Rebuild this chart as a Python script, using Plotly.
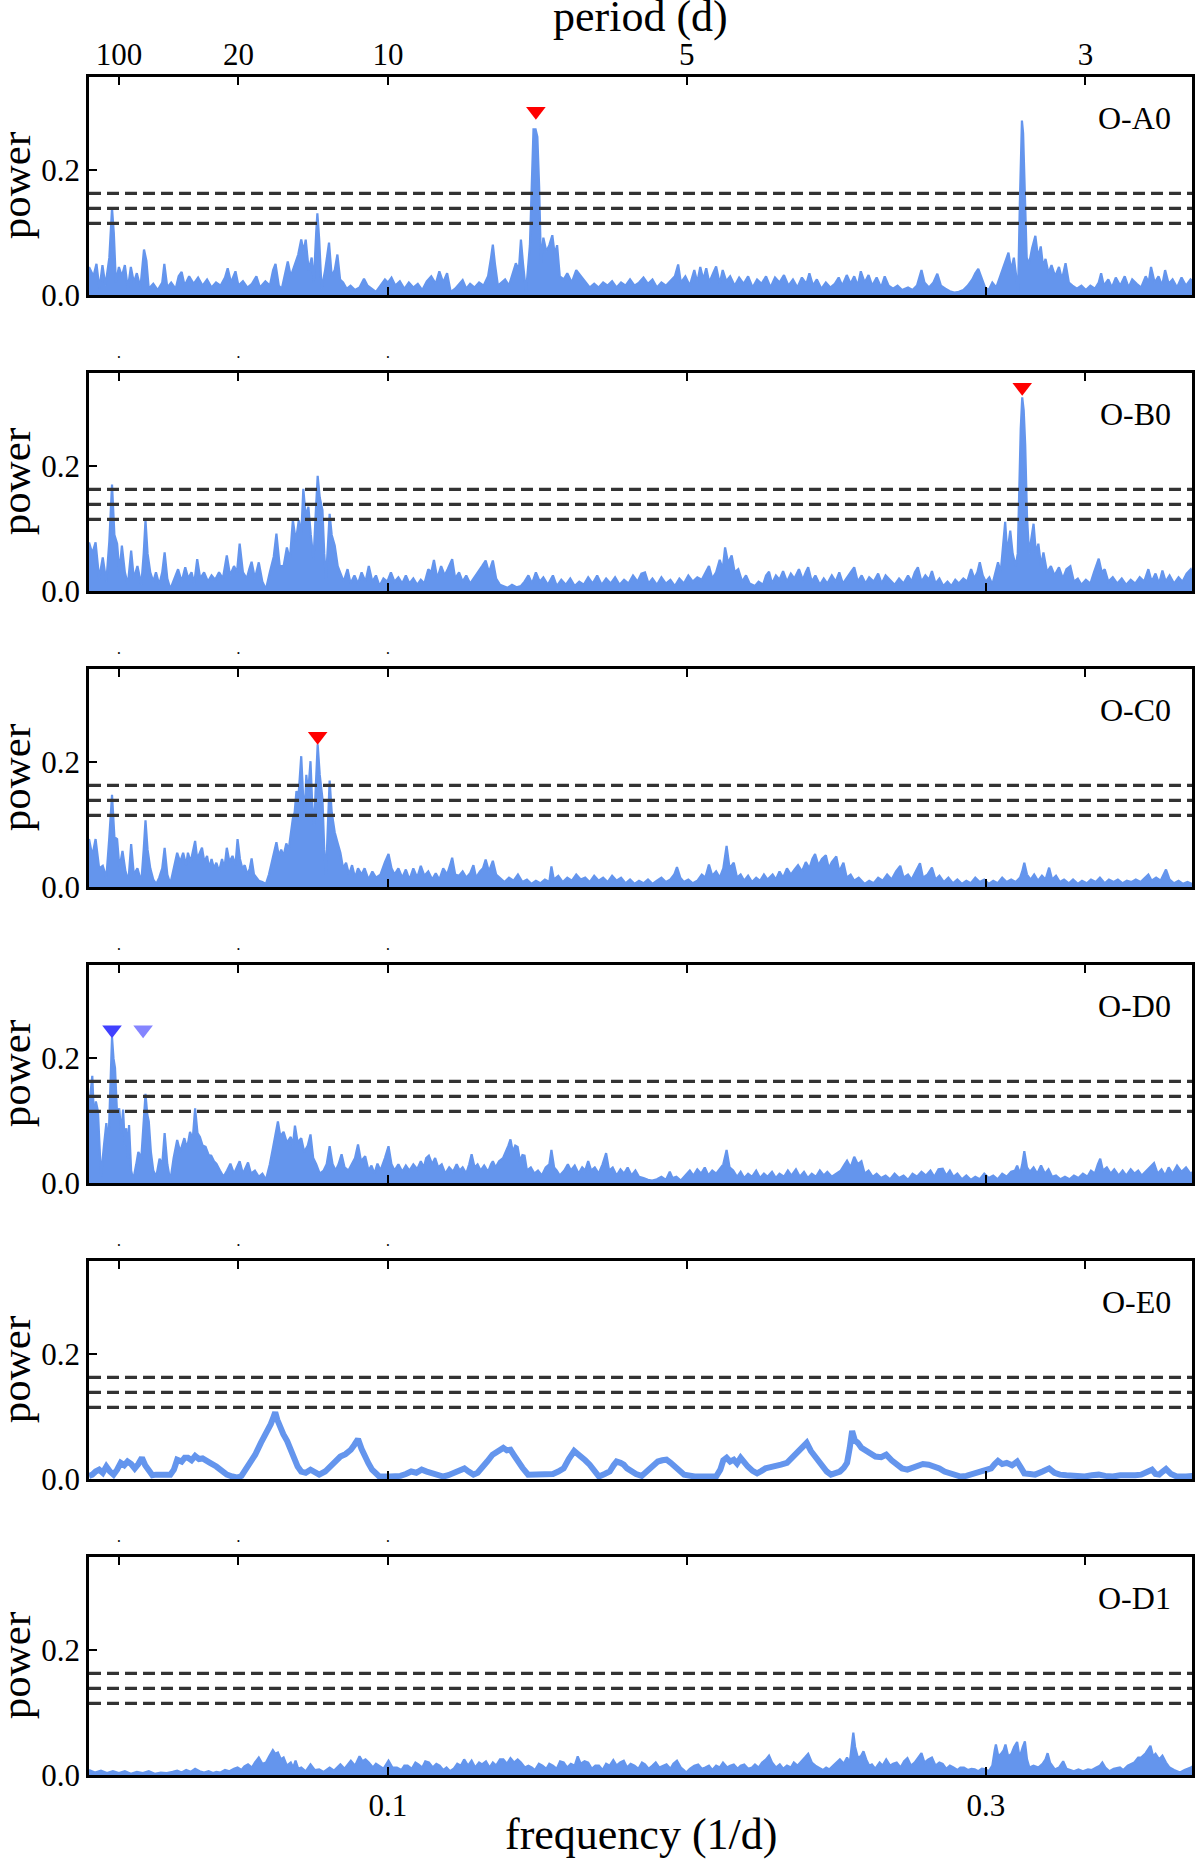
import plotly.graph_objects as go

# ---------------- data ----------------
PANEL_NAMES = ["O-A0", "O-B0", "O-C0", "O-D0", "O-E0", "O-D1"]
THRESHOLDS = [0.163, 0.139, 0.115]
FREQ_TICKS = [0.1, 0.3]
FREQ_TICK_TEXT = ["0.1", "0.3"]
PERIOD_TICKS = [100, 20, 10, 5, 3]
POWER_TICKS = [0.0, 0.2]
POWER_TICK_TEXT = ["0.0", "0.2"]
X_RANGE = [0.0, 0.369]
Y_RANGE = [0.0, 0.35]

# (frequency, power)
A0 = [(0.0000,0.045),(0.0015,0.030),(0.0025,0.050),(0.0035,0.010),(0.0045,0.048),(0.0055,0.015),(0.0068,0.060),(0.0077,0.139),(0.0083,0.100),(0.0090,0.020),
(0.0100,0.045),(0.0110,0.030),(0.0120,0.048),(0.0130,0.010),(0.0140,0.045),(0.0150,0.020),(0.0160,0.035),(0.0172,0.012),(0.0184,0.073),(0.0192,0.055),
(0.0200,0.010),(0.0215,0.018),(0.0230,0.008),(0.0245,0.020),(0.0252,0.050),(0.0262,0.012),(0.0275,0.020),(0.0290,0.010),(0.0300,0.030),(0.0310,0.037),
(0.0320,0.015),(0.0335,0.030),(0.0350,0.018),(0.0365,0.028),(0.0380,0.015),(0.0395,0.025),(0.0410,0.012),(0.0425,0.020),(0.0440,0.015),(0.0455,0.028),
(0.0464,0.043),(0.0475,0.020),(0.0490,0.038),(0.0500,0.015),(0.0515,0.022),(0.0530,0.012),(0.0545,0.018),(0.0560,0.030),(0.0572,0.012),(0.0590,0.022),
(0.0605,0.015),(0.0616,0.040),(0.0624,0.050),(0.0635,0.015),(0.0645,0.010),(0.0655,0.030),(0.0665,0.054),(0.0675,0.030),(0.0690,0.050),(0.0700,0.065),
(0.0710,0.089),(0.0718,0.070),(0.0725,0.089),(0.0735,0.040),(0.0745,0.060),(0.0752,0.020),(0.0760,0.100),(0.0764,0.131),(0.0770,0.090),(0.0778,0.010),
(0.0790,0.040),(0.0803,0.084),(0.0812,0.030),(0.0822,0.040),(0.0831,0.065),(0.0840,0.025),(0.0850,0.020),(0.0862,0.010),(0.0875,0.015),(0.0890,0.008),
(0.0905,0.012),(0.0920,0.026),(0.0932,0.015),(0.0945,0.010),(0.0960,0.005),(0.0975,0.015),(0.0990,0.025),(0.1000,0.020),(0.1012,0.028),(0.1025,0.015),
(0.1040,0.022),(0.1055,0.010),(0.1070,0.020),(0.1085,0.012),(0.1100,0.018),(0.1115,0.008),(0.1130,0.022),(0.1145,0.030),(0.1160,0.018),(0.1172,0.038),
(0.1185,0.020),(0.1198,0.035),(0.1210,0.005),(0.1225,0.010),(0.1240,0.018),(0.1250,0.024),(0.1262,0.010),(0.1275,0.018),(0.1290,0.012),(0.1305,0.020),
(0.1320,0.015),(0.1335,0.030),(0.1345,0.060),(0.1351,0.081),(0.1358,0.050),(0.1368,0.015),(0.1380,0.020),(0.1392,0.025),(0.1405,0.015),(0.1418,0.035),
(0.1428,0.051),(0.1438,0.040),(0.1445,0.089),(0.1452,0.050),(0.1462,0.005),(0.1475,0.080),(0.1480,0.173),(0.1487,0.266),(0.1494,0.266),(0.1500,0.254),
(0.1506,0.173),(0.1512,0.050),(0.1520,0.092),(0.1530,0.070),(0.1540,0.080),(0.1550,0.096),(0.1558,0.065),(0.1566,0.080),(0.1575,0.030),(0.1588,0.025),
(0.1600,0.035),(0.1615,0.020),(0.1630,0.040),(0.1645,0.030),(0.1660,0.022),(0.1675,0.012),(0.1690,0.018),(0.1705,0.012),(0.1720,0.020),(0.1735,0.015),
(0.1750,0.022),(0.1765,0.012),(0.1780,0.020),(0.1795,0.015),(0.1810,0.025),(0.1825,0.015),(0.1840,0.020),(0.1855,0.028),(0.1870,0.018),(0.1885,0.025),
(0.1900,0.012),(0.1915,0.020),(0.1930,0.015),(0.1945,0.022),(0.1960,0.030),(0.1971,0.049),(0.1980,0.020),(0.1995,0.030),(0.2010,0.015),(0.2025,0.040),
(0.2035,0.020),(0.2045,0.045),(0.2055,0.025),(0.2065,0.043),(0.2075,0.020),(0.2088,0.035),(0.2098,0.046),(0.2110,0.018),(0.2120,0.040),(0.2132,0.022),
(0.2145,0.030),(0.2160,0.015),(0.2175,0.028),(0.2190,0.018),(0.2205,0.030),(0.2220,0.012),(0.2235,0.025),(0.2250,0.018),(0.2265,0.030),(0.2280,0.012),
(0.2295,0.028),(0.2310,0.020),(0.2325,0.032),(0.2340,0.015),(0.2355,0.025),(0.2370,0.012),(0.2385,0.028),(0.2400,0.018),(0.2410,0.035),(0.2422,0.015),
(0.2435,0.025),(0.2450,0.010),(0.2465,0.020),(0.2480,0.012),(0.2495,0.018),(0.2508,0.028),(0.2520,0.015),(0.2535,0.032),(0.2548,0.018),(0.2560,0.030),
(0.2572,0.015),(0.2582,0.038),(0.2595,0.020),(0.2608,0.032),(0.2620,0.015),(0.2635,0.028),(0.2650,0.012),(0.2662,0.030),(0.2675,0.015),(0.2690,0.010),
(0.2705,0.015),(0.2720,0.008),(0.2740,0.012),(0.2755,0.008),(0.2770,0.015),(0.2785,0.040),(0.2795,0.020),(0.2810,0.012),(0.2825,0.020),(0.2838,0.034),
(0.2850,0.015),(0.2865,0.010),(0.2880,0.006),(0.2895,0.004),(0.2910,0.005),(0.2925,0.008),(0.2940,0.015),(0.2955,0.025),(0.2965,0.035),(0.2975,0.042),
(0.2985,0.030),(0.2998,0.012),(0.3010,0.008),(0.3022,0.020),(0.3035,0.012),(0.3048,0.030),(0.3060,0.045),(0.3068,0.055),(0.3076,0.068),(0.3085,0.040),
(0.3094,0.060),(0.3102,0.030),(0.3108,0.002),(0.3114,0.146),(0.3118,0.240),(0.3121,0.280),(0.3125,0.260),(0.3129,0.200),(0.3133,0.120),(0.3137,0.060),
(0.3145,0.050),(0.3155,0.075),(0.3166,0.095),(0.3175,0.060),(0.3184,0.078),(0.3192,0.045),(0.3200,0.058),(0.3210,0.035),(0.3220,0.048),(0.3232,0.030),
(0.3245,0.045),(0.3255,0.025),(0.3267,0.051),(0.3278,0.020),(0.3290,0.015),(0.3305,0.010),(0.3320,0.015),(0.3335,0.008),(0.3350,0.015),(0.3365,0.010),
(0.3378,0.020),(0.3386,0.035),(0.3395,0.015),(0.3410,0.025),(0.3422,0.012),(0.3435,0.028),(0.3450,0.015),(0.3465,0.030),(0.3478,0.012),(0.3490,0.025),
(0.3505,0.018),(0.3520,0.012),(0.3535,0.030),(0.3545,0.020),(0.3553,0.045),(0.3565,0.020),(0.3578,0.030),(0.3590,0.015),(0.3600,0.040),(0.3612,0.018),
(0.3625,0.025),(0.3640,0.012),(0.3655,0.028),(0.3670,0.015),(0.3685,0.025),(0.3700,0.018)]

B0 = [(0.0000,0.078),(0.0011,0.060),(0.0022,0.078),(0.0034,0.020),(0.0046,0.054),(0.0058,0.015),(0.0068,0.080),(0.0077,0.171),(0.0085,0.090),(0.0094,0.076),
(0.0102,0.030),(0.0110,0.073),(0.0120,0.030),(0.0130,0.010),(0.0141,0.065),(0.0150,0.020),(0.0162,0.040),(0.0175,0.010),(0.0183,0.060),(0.0189,0.114),
(0.0196,0.060),(0.0205,0.030),(0.0215,0.015),(0.0224,0.030),(0.0235,0.010),(0.0245,0.030),(0.0253,0.062),(0.0262,0.020),(0.0272,0.003),(0.0285,0.020),
(0.0298,0.035),(0.0310,0.015),(0.0322,0.038),(0.0332,0.020),(0.0343,0.030),(0.0352,0.012),(0.0362,0.051),(0.0372,0.020),(0.0385,0.030),(0.0398,0.015),
(0.0410,0.025),(0.0422,0.018),(0.0435,0.030),(0.0448,0.020),(0.0461,0.057),(0.0472,0.025),(0.0485,0.040),(0.0495,0.030),(0.0504,0.076),(0.0515,0.030),
(0.0528,0.020),(0.0536,0.035),(0.0544,0.047),(0.0555,0.020),(0.0568,0.046),(0.0580,0.015),(0.0592,0.003),(0.0605,0.030),(0.0618,0.055),(0.0627,0.092),
(0.0638,0.040),(0.0651,0.040),(0.0662,0.070),(0.0672,0.050),(0.0682,0.114),(0.0692,0.080),(0.0702,0.114),(0.0710,0.090),(0.0717,0.164),(0.0725,0.120),
(0.0734,0.135),(0.0742,0.090),(0.0751,0.050),(0.0758,0.120),(0.0765,0.185),(0.0772,0.150),(0.0781,0.130),(0.0787,0.060),(0.0793,0.020),(0.0800,0.080),
(0.0805,0.124),(0.0812,0.090),(0.0822,0.073),(0.0832,0.040),(0.0841,0.030),(0.0852,0.015),(0.0865,0.035),(0.0875,0.012),(0.0888,0.025),(0.0900,0.012),
(0.0912,0.030),(0.0925,0.015),(0.0936,0.040),(0.0948,0.015),(0.0960,0.025),(0.0972,0.008),(0.0985,0.020),(0.0998,0.015),(0.1010,0.030),(0.1022,0.015),
(0.1035,0.022),(0.1048,0.012),(0.1060,0.025),(0.1072,0.012),(0.1085,0.020),(0.1098,0.010),(0.1110,0.018),(0.1122,0.012),(0.1135,0.035),(0.1145,0.030),
(0.1154,0.050),(0.1165,0.020),(0.1178,0.040),(0.1190,0.025),(0.1200,0.035),(0.1215,0.051),(0.1225,0.020),(0.1238,0.030),(0.1250,0.015),(0.1262,0.025),
(0.1275,0.012),(0.1290,0.022),(0.1302,0.030),(0.1315,0.040),(0.1327,0.049),(0.1338,0.030),(0.1351,0.049),(0.1362,0.020),(0.1375,0.010),(0.1386,0.008),
(0.1400,0.005),(0.1415,0.010),(0.1430,0.006),(0.1445,0.008),(0.1457,0.015),(0.1470,0.025),(0.1482,0.012),(0.1495,0.030),(0.1508,0.015),(0.1520,0.022),
(0.1535,0.010),(0.1552,0.025),(0.1565,0.008),(0.1580,0.018),(0.1595,0.010),(0.1610,0.020),(0.1625,0.008),(0.1640,0.015),(0.1655,0.010),(0.1670,0.022),
(0.1685,0.012),(0.1700,0.025),(0.1715,0.010),(0.1730,0.020),(0.1745,0.012),(0.1760,0.022),(0.1775,0.010),(0.1790,0.018),(0.1805,0.012),(0.1820,0.025),
(0.1835,0.015),(0.1848,0.028),(0.1860,0.030),(0.1872,0.012),(0.1885,0.020),(0.1900,0.010),(0.1915,0.022),(0.1930,0.012),(0.1945,0.018),(0.1960,0.008),
(0.1975,0.020),(0.1990,0.012),(0.2005,0.025),(0.2020,0.015),(0.2035,0.022),(0.2050,0.018),(0.2062,0.030),(0.2074,0.040),(0.2085,0.020),(0.2098,0.030),
(0.2110,0.050),(0.2120,0.035),(0.2128,0.070),(0.2138,0.045),(0.2150,0.057),(0.2160,0.030),(0.2172,0.035),(0.2185,0.015),(0.2198,0.025),(0.2210,0.012),
(0.2228,0.008),(0.2240,0.015),(0.2255,0.010),(0.2265,0.025),(0.2275,0.031),(0.2285,0.012),(0.2298,0.025),(0.2310,0.018),(0.2322,0.032),(0.2335,0.015),
(0.2348,0.028),(0.2360,0.020),(0.2375,0.035),(0.2388,0.018),(0.2398,0.030),(0.2406,0.038),(0.2418,0.015),(0.2430,0.025),(0.2445,0.010),(0.2458,0.020),
(0.2470,0.012),(0.2485,0.025),(0.2498,0.015),(0.2510,0.030),(0.2522,0.012),(0.2535,0.022),(0.2548,0.030),(0.2560,0.038),(0.2572,0.015),(0.2585,0.025),
(0.2598,0.012),(0.2610,0.022),(0.2625,0.015),(0.2640,0.028),(0.2652,0.012),(0.2665,0.025),(0.2680,0.018),(0.2695,0.010),(0.2710,0.020),(0.2725,0.012),
(0.2740,0.025),(0.2752,0.015),(0.2763,0.030),(0.2773,0.038),(0.2785,0.015),(0.2798,0.025),(0.2810,0.018),(0.2820,0.032),(0.2832,0.012),(0.2845,0.020),
(0.2858,0.008),(0.2872,0.015),(0.2885,0.008),(0.2898,0.018),(0.2910,0.012),(0.2925,0.020),(0.2938,0.015),(0.2951,0.035),(0.2962,0.020),(0.2972,0.030),
(0.2980,0.046),(0.2990,0.025),(0.3000,0.015),(0.3012,0.022),(0.3022,0.010),(0.3032,0.030),(0.3041,0.046),(0.3050,0.030),(0.3058,0.070),(0.3065,0.111),
(0.3072,0.060),(0.3082,0.097),(0.3090,0.060),(0.3100,0.040),(0.3107,0.060),(0.3112,0.168),(0.3117,0.260),(0.3122,0.311),(0.3127,0.290),(0.3132,0.235),
(0.3138,0.120),(0.3145,0.060),(0.3152,0.080),(0.3160,0.108),(0.3168,0.060),(0.3176,0.076),(0.3185,0.040),(0.3193,0.062),(0.3205,0.030),(0.3218,0.040),
(0.3230,0.025),(0.3245,0.038),(0.3258,0.020),(0.3270,0.035),(0.3283,0.040),(0.3295,0.015),(0.3308,0.020),(0.3320,0.010),(0.3335,0.018),(0.3350,0.012),
(0.3362,0.030),(0.3372,0.045),(0.3378,0.052),(0.3388,0.030),(0.3398,0.035),(0.3410,0.015),(0.3425,0.022),(0.3440,0.012),(0.3455,0.020),(0.3470,0.010),
(0.3485,0.018),(0.3500,0.012),(0.3515,0.022),(0.3530,0.015),(0.3544,0.035),(0.3555,0.015),(0.3568,0.028),(0.3580,0.012),(0.3591,0.033),(0.3602,0.015),
(0.3615,0.025),(0.3630,0.012),(0.3645,0.022),(0.3658,0.015),(0.3672,0.028),(0.3686,0.035),(0.3700,0.020)]

C0 = [(0.0000,0.077),(0.0011,0.050),(0.0022,0.077),(0.0034,0.030),(0.0046,0.034),(0.0058,0.015),(0.0068,0.080),(0.0077,0.148),(0.0085,0.080),(0.0094,0.077),
(0.0102,0.030),(0.0112,0.058),(0.0122,0.025),(0.0132,0.010),(0.0141,0.069),(0.0150,0.020),(0.0162,0.030),(0.0175,0.008),(0.0183,0.060),(0.0189,0.107),
(0.0196,0.060),(0.0205,0.030),(0.0215,0.012),(0.0225,0.005),(0.0235,0.015),(0.0245,0.030),(0.0253,0.063),(0.0262,0.020),(0.0272,0.005),(0.0283,0.030),
(0.0295,0.055),(0.0305,0.040),(0.0315,0.055),(0.0325,0.035),(0.0331,0.055),(0.0340,0.040),(0.0348,0.060),(0.0355,0.074),(0.0362,0.045),(0.0370,0.055),
(0.0378,0.063),(0.0386,0.040),(0.0395,0.050),(0.0402,0.030),(0.0410,0.045),(0.0418,0.030),(0.0426,0.039),(0.0435,0.025),(0.0445,0.045),(0.0453,0.030),
(0.0461,0.063),(0.0470,0.040),(0.0480,0.050),(0.0490,0.035),(0.0497,0.077),(0.0505,0.045),(0.0513,0.030),(0.0521,0.035),(0.0530,0.020),(0.0538,0.030),
(0.0544,0.046),(0.0552,0.020),(0.0560,0.015),(0.0568,0.010),(0.0580,0.008),(0.0592,0.005),(0.0602,0.020),(0.0612,0.040),(0.0620,0.055),(0.0627,0.072),
(0.0635,0.050),(0.0643,0.060),(0.0651,0.050),(0.0660,0.070),(0.0668,0.060),(0.0675,0.085),(0.0682,0.110),(0.0688,0.120),(0.0694,0.154),(0.0700,0.140),
(0.0705,0.180),(0.0710,0.210),(0.0716,0.150),(0.0722,0.120),(0.0727,0.180),(0.0733,0.150),(0.0741,0.202),(0.0747,0.130),(0.0753,0.100),(0.0760,0.170),
(0.0765,0.229),(0.0772,0.180),(0.0781,0.142),(0.0787,0.060),(0.0793,0.020),(0.0800,0.110),(0.0805,0.171),(0.0812,0.120),(0.0822,0.088),(0.0832,0.070),
(0.0841,0.055),(0.0850,0.030),(0.0860,0.039),(0.0870,0.020),(0.0880,0.035),(0.0890,0.015),(0.0900,0.030),(0.0912,0.020),(0.0922,0.030),(0.0935,0.012),
(0.0948,0.025),(0.0960,0.015),(0.0975,0.020),(0.0990,0.040),(0.1002,0.053),(0.1012,0.030),(0.1022,0.020),(0.1035,0.030),(0.1048,0.015),(0.1060,0.028),
(0.1072,0.012),(0.1085,0.030),(0.1098,0.015),(0.1110,0.034),(0.1122,0.018),(0.1135,0.025),(0.1148,0.012),(0.1160,0.022),(0.1172,0.012),(0.1185,0.030),
(0.1198,0.020),(0.1208,0.035),(0.1215,0.047),(0.1225,0.020),(0.1238,0.018),(0.1250,0.025),(0.1262,0.015),(0.1275,0.022),(0.1286,0.035),(0.1295,0.015),
(0.1308,0.025),(0.1318,0.030),(0.1327,0.044),(0.1338,0.025),(0.1351,0.042),(0.1362,0.020),(0.1375,0.015),(0.1390,0.008),(0.1405,0.015),(0.1420,0.010),
(0.1435,0.020),(0.1450,0.008),(0.1465,0.012),(0.1480,0.005),(0.1495,0.010),(0.1510,0.006),(0.1525,0.012),(0.1540,0.008),(0.1547,0.033),(0.1555,0.012),
(0.1570,0.018),(0.1585,0.008),(0.1600,0.015),(0.1615,0.010),(0.1630,0.020),(0.1645,0.012),(0.1660,0.015),(0.1675,0.008),(0.1690,0.018),(0.1705,0.010),
(0.1720,0.015),(0.1735,0.008),(0.1750,0.018),(0.1765,0.010),(0.1780,0.015),(0.1795,0.006),(0.1810,0.012),(0.1825,0.005),(0.1840,0.010),(0.1855,0.006),
(0.1870,0.012),(0.1885,0.005),(0.1900,0.010),(0.1915,0.015),(0.1930,0.008),(0.1945,0.012),(0.1958,0.020),(0.1967,0.032),(0.1978,0.015),(0.1990,0.008),
(0.2005,0.012),(0.2020,0.006),(0.2035,0.010),(0.2050,0.020),(0.2062,0.015),(0.2074,0.036),(0.2085,0.018),(0.2098,0.025),(0.2110,0.015),(0.2122,0.030),
(0.2133,0.066),(0.2143,0.030),(0.2157,0.039),(0.2168,0.015),(0.2180,0.020),(0.2192,0.010),(0.2205,0.018),(0.2218,0.008),(0.2232,0.015),(0.2245,0.010),
(0.2258,0.020),(0.2270,0.012),(0.2287,0.020),(0.2298,0.012),(0.2310,0.025),(0.2322,0.015),(0.2335,0.030),(0.2348,0.020),(0.2360,0.028),(0.2372,0.035),
(0.2385,0.025),(0.2398,0.040),(0.2410,0.030),(0.2420,0.045),(0.2429,0.053),(0.2440,0.035),(0.2452,0.045),(0.2465,0.051),(0.2475,0.030),(0.2485,0.040),
(0.2500,0.049),(0.2510,0.025),(0.2524,0.039),(0.2535,0.015),(0.2548,0.020),(0.2560,0.010),(0.2575,0.015),(0.2595,0.005),(0.2610,0.010),(0.2625,0.006),
(0.2640,0.015),(0.2655,0.010),(0.2670,0.020),(0.2685,0.012),(0.2700,0.025),(0.2714,0.034),(0.2725,0.015),(0.2740,0.020),(0.2752,0.012),(0.2765,0.025),
(0.2780,0.038),(0.2790,0.015),(0.2805,0.020),(0.2820,0.031),(0.2832,0.012),(0.2845,0.018),(0.2860,0.008),(0.2875,0.015),(0.2890,0.006),(0.2905,0.012),
(0.2920,0.005),(0.2935,0.010),(0.2950,0.006),(0.2965,0.015),(0.2980,0.008),(0.2995,0.012),(0.3010,0.005),(0.3025,0.010),(0.3040,0.006),(0.3055,0.015),
(0.3070,0.008),(0.3085,0.012),(0.3100,0.008),(0.3115,0.015),(0.3122,0.025),(0.3129,0.039),(0.3138,0.020),(0.3150,0.012),(0.3162,0.020),(0.3175,0.010),
(0.3188,0.018),(0.3200,0.012),(0.3212,0.031),(0.3222,0.012),(0.3235,0.018),(0.3248,0.008),(0.3262,0.012),(0.3278,0.006),(0.3292,0.012),(0.3308,0.005),
(0.3322,0.010),(0.3338,0.006),(0.3352,0.012),(0.3368,0.008),(0.3382,0.015),(0.3398,0.006),(0.3412,0.012),(0.3428,0.008),(0.3442,0.012),(0.3458,0.006),
(0.3472,0.010),(0.3488,0.008),(0.3502,0.012),(0.3518,0.008),(0.3532,0.015),(0.3544,0.020),(0.3555,0.010),(0.3570,0.015),(0.3585,0.010),(0.3595,0.020),
(0.3603,0.028),(0.3615,0.012),(0.3630,0.006),(0.3645,0.010),(0.3660,0.005),(0.3675,0.008),(0.3690,0.005),(0.3700,0.008)]

D0 = [(0.0000,0.120),(0.0011,0.172),(0.0017,0.100),(0.0023,0.131),(0.0030,0.115),(0.0040,0.010),(0.0050,0.060),(0.0058,0.096),(0.0065,0.060),(0.0072,0.150),
(0.0077,0.234),(0.0082,0.200),(0.0087,0.185),(0.0094,0.110),(0.0101,0.120),(0.0108,0.080),(0.0114,0.118),(0.0120,0.060),(0.0125,0.088),(0.0130,0.040),
(0.0134,0.093),(0.0141,0.020),(0.0148,0.005),(0.0158,0.030),(0.0165,0.050),(0.0175,0.040),(0.0183,0.090),(0.0189,0.143),(0.0195,0.110),(0.0200,0.099),
(0.0207,0.050),(0.0215,0.020),(0.0225,0.010),(0.0236,0.039),(0.0245,0.030),(0.0253,0.080),(0.0262,0.030),(0.0272,0.003),(0.0283,0.040),(0.0295,0.069),
(0.0305,0.050),(0.0319,0.072),(0.0328,0.055),(0.0338,0.082),(0.0347,0.070),(0.0355,0.120),(0.0363,0.080),(0.0371,0.074),(0.0380,0.060),(0.0390,0.058),
(0.0400,0.045),(0.0409,0.044),(0.0418,0.035),(0.0426,0.031),(0.0438,0.020),(0.0450,0.010),(0.0462,0.020),(0.0473,0.031),(0.0485,0.015),(0.0495,0.025),
(0.0504,0.035),(0.0515,0.015),(0.0525,0.025),(0.0532,0.033),(0.0542,0.015),(0.0555,0.020),(0.0568,0.010),(0.0580,0.015),(0.0592,0.005),(0.0605,0.030),
(0.0615,0.055),(0.0625,0.080),(0.0632,0.099),(0.0640,0.075),(0.0651,0.082),(0.0662,0.065),(0.0675,0.074),(0.0682,0.060),(0.0689,0.092),(0.0698,0.065),
(0.0710,0.072),(0.0720,0.050),(0.0732,0.060),(0.0741,0.078),(0.0750,0.040),(0.0760,0.030),(0.0772,0.015),(0.0785,0.020),(0.0795,0.030),(0.0805,0.059),
(0.0815,0.030),(0.0825,0.020),(0.0835,0.030),(0.0845,0.046),(0.0855,0.025),(0.0868,0.020),(0.0880,0.030),(0.0890,0.040),(0.0900,0.062),(0.0910,0.035),
(0.0924,0.043),(0.0935,0.020),(0.0945,0.028),(0.0955,0.015),(0.0965,0.031),(0.0975,0.020),(0.0990,0.040),(0.1002,0.059),(0.1012,0.030),(0.1022,0.020),
(0.1035,0.030),(0.1048,0.018),(0.1060,0.028),(0.1072,0.020),(0.1085,0.030),(0.1098,0.022),(0.1110,0.035),(0.1120,0.025),(0.1128,0.040),(0.1137,0.044),
(0.1148,0.030),(0.1158,0.040),(0.1168,0.025),(0.1180,0.030),(0.1192,0.015),(0.1205,0.025),(0.1218,0.018),(0.1230,0.030),(0.1240,0.020),(0.1250,0.025),
(0.1262,0.015),(0.1272,0.030),(0.1280,0.046),(0.1290,0.025),(0.1300,0.030),(0.1310,0.020),(0.1322,0.028),(0.1335,0.018),(0.1345,0.030),(0.1351,0.035),
(0.1360,0.025),(0.1372,0.035),(0.1385,0.040),(0.1395,0.050),(0.1403,0.060),(0.1410,0.070),(0.1418,0.050),(0.1426,0.060),(0.1434,0.058),(0.1442,0.035),
(0.1450,0.045),(0.1457,0.044),(0.1465,0.020),(0.1478,0.025),(0.1490,0.015),(0.1502,0.020),(0.1515,0.012),(0.1528,0.025),(0.1540,0.030),(0.1547,0.053),
(0.1556,0.025),(0.1565,0.020),(0.1575,0.012),(0.1590,0.020),(0.1602,0.030),(0.1612,0.020),(0.1625,0.028),(0.1638,0.015),(0.1650,0.025),(0.1660,0.020),
(0.1670,0.035),(0.1680,0.020),(0.1692,0.025),(0.1705,0.015),(0.1718,0.030),(0.1730,0.048),(0.1740,0.020),(0.1752,0.025),(0.1765,0.012),(0.1778,0.022),
(0.1790,0.015),(0.1802,0.025),(0.1815,0.012),(0.1828,0.020),(0.1840,0.010),(0.1855,0.008),(0.1870,0.005),(0.1884,0.004),(0.1900,0.006),(0.1915,0.010),
(0.1930,0.005),(0.1943,0.018),(0.1952,0.008),(0.1965,0.010),(0.1980,0.004),(0.1995,0.012),(0.2010,0.020),(0.2022,0.012),(0.2035,0.022),(0.2048,0.015),
(0.2060,0.025),(0.2072,0.012),(0.2085,0.020),(0.2098,0.015),(0.2110,0.022),(0.2122,0.030),(0.2133,0.053),(0.2143,0.025),(0.2155,0.020),(0.2168,0.010),
(0.2180,0.018),(0.2192,0.008),(0.2205,0.015),(0.2218,0.010),(0.2232,0.020),(0.2245,0.008),(0.2258,0.015),(0.2270,0.010),(0.2285,0.018),(0.2298,0.008),
(0.2310,0.015),(0.2325,0.010),(0.2338,0.020),(0.2350,0.012),(0.2365,0.022),(0.2378,0.010),(0.2392,0.018),(0.2405,0.008),(0.2418,0.015),(0.2432,0.010),
(0.2445,0.020),(0.2458,0.012),(0.2470,0.018),(0.2485,0.010),(0.2500,0.015),(0.2515,0.020),(0.2528,0.030),(0.2536,0.036),(0.2548,0.025),(0.2560,0.042),
(0.2572,0.030),(0.2584,0.035),(0.2595,0.015),(0.2608,0.020),(0.2622,0.010),(0.2635,0.015),(0.2650,0.008),(0.2665,0.012),(0.2680,0.006),(0.2695,0.015),
(0.2710,0.008),(0.2725,0.012),(0.2740,0.005),(0.2755,0.015),(0.2770,0.010),(0.2785,0.018),(0.2800,0.012),(0.2815,0.020),(0.2828,0.010),(0.2842,0.022),
(0.2856,0.023),(0.2868,0.012),(0.2880,0.020),(0.2892,0.010),(0.2905,0.015),(0.2920,0.006),(0.2935,0.012),(0.2950,0.005),(0.2965,0.010),(0.2980,0.006),
(0.2995,0.015),(0.3010,0.008),(0.3025,0.012),(0.3040,0.006),(0.3055,0.015),(0.3070,0.010),(0.3085,0.018),(0.3098,0.020),(0.3105,0.028),(0.3115,0.015),
(0.3122,0.030),(0.3129,0.051),(0.3138,0.025),(0.3148,0.018),(0.3160,0.025),(0.3172,0.015),(0.3185,0.028),(0.3198,0.015),(0.3210,0.022),(0.3222,0.010),
(0.3235,0.012),(0.3250,0.006),(0.3265,0.010),(0.3280,0.006),(0.3295,0.012),(0.3310,0.008),(0.3325,0.015),(0.3340,0.010),(0.3352,0.020),(0.3365,0.015),
(0.3375,0.030),(0.3383,0.039),(0.3392,0.020),(0.3405,0.025),(0.3418,0.015),(0.3430,0.022),(0.3445,0.012),(0.3458,0.020),(0.3470,0.012),(0.3485,0.022),
(0.3498,0.015),(0.3510,0.020),(0.3522,0.012),(0.3535,0.018),(0.3548,0.025),(0.3556,0.028),(0.3563,0.032),(0.3575,0.015),(0.3588,0.022),(0.3600,0.012),
(0.3612,0.025),(0.3625,0.015),(0.3640,0.028),(0.3655,0.018),(0.3670,0.025),(0.3685,0.015),(0.3700,0.020)]

E0 = [(0.0000,0.005),(0.0011,0.007),(0.0022,0.012),(0.0034,0.015),(0.0046,0.010),(0.0058,0.020),(0.0070,0.012),(0.0082,0.007),(0.0094,0.015),(0.0106,0.026),
(0.0118,0.022),(0.0129,0.028),(0.0141,0.024),(0.0153,0.017),(0.0165,0.024),(0.0177,0.034),(0.0188,0.022),(0.0200,0.012),(0.0212,0.006),(0.0224,0.007),
(0.0248,0.007),(0.0272,0.007),(0.0284,0.015),(0.0295,0.031),(0.0310,0.028),(0.0320,0.034),(0.0331,0.034),(0.0343,0.030),(0.0355,0.037),(0.0368,0.032),
(0.0380,0.033),(0.0390,0.031),(0.0405,0.026),(0.0426,0.020),(0.0445,0.012),(0.0461,0.007),(0.0480,0.004),(0.0497,0.002),(0.0510,0.005),(0.0520,0.012),
(0.0538,0.025),(0.0556,0.039),(0.0575,0.058),(0.0592,0.072),(0.0600,0.082),(0.0608,0.088),(0.0616,0.098),(0.0623,0.107),(0.0630,0.095),(0.0639,0.083),
(0.0650,0.072),(0.0663,0.061),(0.0675,0.045),(0.0687,0.031),(0.0698,0.020),(0.0710,0.012),(0.0725,0.010),(0.0741,0.015),(0.0755,0.010),(0.0770,0.007),
(0.0790,0.012),(0.0805,0.020),(0.0825,0.030),(0.0841,0.036),(0.0858,0.040),(0.0876,0.047),(0.0888,0.055),(0.0900,0.064),(0.0912,0.048),(0.0924,0.034),
(0.0935,0.025),(0.0947,0.015),(0.0960,0.008),(0.0971,0.004),(0.1007,0.004),(0.1042,0.005),(0.1060,0.008),(0.1078,0.012),(0.1095,0.010),(0.1113,0.015),
(0.1130,0.012),(0.1149,0.009),(0.1167,0.006),(0.1185,0.004),(0.1202,0.006),(0.1220,0.009),(0.1238,0.012),(0.1256,0.017),(0.1270,0.012),(0.1286,0.007),
(0.1300,0.010),(0.1315,0.017),(0.1332,0.028),(0.1350,0.039),(0.1368,0.045),(0.1386,0.050),(0.1398,0.046),(0.1410,0.047),(0.1422,0.038),(0.1434,0.028),
(0.1450,0.018),(0.1469,0.007),(0.1505,0.007),(0.1530,0.006),(0.1552,0.008),(0.1570,0.012),(0.1588,0.017),(0.1605,0.032),(0.1623,0.045),(0.1635,0.040),
(0.1647,0.036),(0.1660,0.030),(0.1675,0.023),(0.1690,0.012),(0.1706,0.004),(0.1725,0.008),(0.1742,0.012),(0.1755,0.022),(0.1765,0.028),(0.1778,0.026),
(0.1789,0.023),(0.1800,0.017),(0.1813,0.012),(0.1830,0.008),(0.1849,0.005),(0.1860,0.010),(0.1872,0.017),(0.1888,0.024),(0.1903,0.028),(0.1918,0.030),
(0.1932,0.031),(0.1946,0.026),(0.1960,0.020),(0.1975,0.012),(0.1991,0.007),(0.2026,0.004),(0.2062,0.005),(0.2098,0.004),(0.2112,0.015),(0.2122,0.030),
(0.2133,0.034),(0.2145,0.028),(0.2157,0.031),(0.2168,0.025),(0.2180,0.034),(0.2192,0.026),(0.2204,0.020),(0.2220,0.013),(0.2235,0.009),(0.2250,0.013),
(0.2263,0.017),(0.2280,0.019),(0.2299,0.020),(0.2315,0.023),(0.2335,0.026),(0.2352,0.034),(0.2370,0.042),(0.2385,0.050),(0.2401,0.058),(0.2415,0.045),
(0.2430,0.036),(0.2440,0.028),(0.2453,0.020),(0.2468,0.012),(0.2482,0.007),(0.2497,0.009),(0.2512,0.012),(0.2525,0.018),(0.2536,0.026),(0.2545,0.050),
(0.2553,0.077),(0.2562,0.062),(0.2572,0.058),(0.2584,0.050),(0.2595,0.047),(0.2612,0.040),(0.2631,0.036),(0.2650,0.035),(0.2667,0.039),(0.2685,0.030),
(0.2702,0.023),(0.2720,0.017),(0.2738,0.015),(0.2755,0.018),(0.2773,0.020),(0.2790,0.024),(0.2809,0.023),(0.2828,0.020),(0.2845,0.017),(0.2862,0.012),
(0.2880,0.009),(0.2898,0.006),(0.2916,0.004),(0.2935,0.005),(0.2951,0.007),(0.2970,0.010),(0.2987,0.012),(0.3003,0.015),(0.3018,0.017),(0.3030,0.024),
(0.3041,0.029),(0.3055,0.024),(0.3070,0.026),(0.3088,0.022),(0.3105,0.028),(0.3118,0.018),(0.3129,0.009),(0.3148,0.008),(0.3165,0.007),(0.3190,0.012),
(0.3212,0.017),(0.3230,0.010),(0.3248,0.007),(0.3270,0.006),(0.3295,0.005),(0.3331,0.004),(0.3355,0.006),(0.3378,0.007),(0.3400,0.005),(0.3425,0.004),
(0.3450,0.006),(0.3473,0.005),(0.3500,0.006),(0.3520,0.007),(0.3540,0.012),(0.3556,0.015),(0.3568,0.008),(0.3580,0.007),(0.3592,0.012),(0.3603,0.016),
(0.3620,0.008),(0.3639,0.004),(0.3670,0.004),(0.3700,0.005)]

D1 = [(0.0000,0.008),(0.0020,0.004),(0.0040,0.007),(0.0060,0.003),(0.0080,0.006),(0.0100,0.003),(0.0120,0.006),(0.0140,0.002),(0.0160,0.005),(0.0180,0.003),
(0.0200,0.006),(0.0220,0.002),(0.0240,0.004),(0.0260,0.003),(0.0280,0.005),(0.0295,0.007),(0.0310,0.004),(0.0325,0.008),(0.0340,0.005),(0.0355,0.010),
(0.0370,0.006),(0.0385,0.004),(0.0400,0.006),(0.0415,0.003),(0.0426,0.005),(0.0440,0.004),(0.0455,0.008),(0.0470,0.006),(0.0485,0.010),(0.0497,0.012),
(0.0510,0.008),(0.0520,0.014),(0.0532,0.017),(0.0545,0.012),(0.0555,0.020),(0.0568,0.028),(0.0580,0.018),(0.0592,0.020),(0.0603,0.030),(0.0615,0.040),
(0.0623,0.034),(0.0632,0.036),(0.0642,0.025),(0.0651,0.028),(0.0662,0.015),(0.0675,0.020),(0.0683,0.012),(0.0691,0.023),(0.0700,0.010),(0.0710,0.012),
(0.0725,0.006),(0.0741,0.017),(0.0755,0.008),(0.0770,0.009),(0.0785,0.005),(0.0805,0.012),(0.0820,0.007),(0.0841,0.017),(0.0855,0.010),(0.0876,0.023),
(0.0890,0.015),(0.0905,0.030),(0.0915,0.022),(0.0925,0.025),(0.0936,0.020),(0.0950,0.012),(0.0960,0.018),(0.0971,0.015),(0.0985,0.010),(0.1002,0.023),
(0.1015,0.012),(0.1030,0.012),(0.1045,0.008),(0.1055,0.015),(0.1066,0.015),(0.1080,0.010),(0.1092,0.020),(0.1102,0.017),(0.1115,0.012),(0.1125,0.022),
(0.1137,0.020),(0.1150,0.012),(0.1162,0.018),(0.1173,0.015),(0.1185,0.008),(0.1196,0.012),(0.1208,0.006),(0.1220,0.010),(0.1232,0.018),(0.1244,0.015),
(0.1255,0.025),(0.1268,0.015),(0.1280,0.023),(0.1292,0.012),(0.1305,0.020),(0.1315,0.017),(0.1328,0.022),(0.1340,0.012),(0.1351,0.020),(0.1362,0.015),
(0.1375,0.025),(0.1386,0.025),(0.1398,0.018),(0.1410,0.027),(0.1422,0.020),(0.1434,0.025),(0.1445,0.020),(0.1458,0.012),(0.1470,0.015),(0.1481,0.012),
(0.1492,0.008),(0.1505,0.018),(0.1517,0.015),(0.1530,0.010),(0.1540,0.018),(0.1552,0.015),(0.1565,0.010),(0.1576,0.022),(0.1588,0.020),(0.1600,0.012),
(0.1612,0.018),(0.1625,0.015),(0.1635,0.030),(0.1645,0.018),(0.1658,0.022),(0.1670,0.020),(0.1682,0.010),(0.1694,0.015),(0.1706,0.015),(0.1718,0.008),
(0.1730,0.018),(0.1742,0.015),(0.1754,0.024),(0.1765,0.015),(0.1777,0.020),(0.1789,0.023),(0.1800,0.012),(0.1812,0.018),(0.1825,0.015),(0.1838,0.010),
(0.1850,0.020),(0.1860,0.017),(0.1872,0.010),(0.1885,0.015),(0.1896,0.020),(0.1908,0.012),(0.1920,0.015),(0.1932,0.017),(0.1945,0.010),(0.1955,0.018),
(0.1967,0.023),(0.1980,0.012),(0.1990,0.008),(0.1998,0.004),(0.2010,0.010),(0.2025,0.015),(0.2038,0.017),(0.2050,0.010),(0.2062,0.012),(0.2074,0.015),
(0.2085,0.008),(0.2098,0.015),(0.2110,0.012),(0.2121,0.020),(0.2135,0.012),(0.2145,0.015),(0.2157,0.017),(0.2170,0.010),(0.2180,0.015),(0.2192,0.017),
(0.2205,0.010),(0.2218,0.012),(0.2228,0.017),(0.2240,0.012),(0.2252,0.020),(0.2265,0.025),(0.2275,0.031),(0.2285,0.020),(0.2298,0.012),(0.2311,0.017),
(0.2322,0.010),(0.2335,0.015),(0.2348,0.012),(0.2358,0.020),(0.2370,0.015),(0.2382,0.022),(0.2395,0.028),(0.2406,0.034),(0.2418,0.020),(0.2430,0.015),
(0.2441,0.012),(0.2455,0.008),(0.2466,0.012),(0.2477,0.009),(0.2490,0.015),(0.2500,0.020),(0.2512,0.025),(0.2525,0.018),(0.2536,0.028),(0.2545,0.020),
(0.2552,0.050),(0.2557,0.068),(0.2563,0.045),(0.2572,0.028),(0.2582,0.030),(0.2591,0.038),(0.2600,0.025),(0.2610,0.015),(0.2619,0.017),(0.2630,0.010),
(0.2645,0.020),(0.2655,0.015),(0.2667,0.025),(0.2680,0.015),(0.2690,0.018),(0.2702,0.020),(0.2715,0.012),(0.2727,0.022),(0.2738,0.027),(0.2750,0.015),
(0.2762,0.020),(0.2775,0.028),(0.2785,0.035),(0.2795,0.020),(0.2808,0.025),(0.2820,0.028),(0.2832,0.015),(0.2845,0.020),(0.2856,0.018),(0.2868,0.010),
(0.2880,0.015),(0.2892,0.012),(0.2905,0.008),(0.2915,0.012),(0.2927,0.012),(0.2940,0.008),(0.2952,0.010),(0.2963,0.009),(0.2975,0.006),(0.2987,0.010),
(0.2999,0.009),(0.3010,0.006),(0.3022,0.015),(0.3030,0.040),(0.3034,0.049),(0.3042,0.030),(0.3051,0.034),(0.3060,0.040),(0.3066,0.049),(0.3075,0.030),
(0.3086,0.034),(0.3095,0.045),(0.3105,0.053),(0.3111,0.035),(0.3117,0.034),(0.3124,0.045),(0.3131,0.054),(0.3138,0.025),(0.3146,0.012),(0.3160,0.015),
(0.3176,0.012),(0.3190,0.018),(0.3200,0.025),(0.3207,0.035),(0.3215,0.020),(0.3231,0.009),(0.3245,0.012),(0.3259,0.022),(0.3270,0.010),(0.3283,0.008),
(0.3295,0.006),(0.3310,0.009),(0.3325,0.006),(0.3342,0.009),(0.3355,0.008),(0.3370,0.012),(0.3382,0.015),(0.3390,0.020),(0.3400,0.012),(0.3414,0.006),
(0.3428,0.010),(0.3449,0.012),(0.3460,0.008),(0.3475,0.015),(0.3487,0.018),(0.3497,0.020),(0.3510,0.028),(0.3520,0.028),(0.3535,0.035),(0.3551,0.047),
(0.3560,0.030),(0.3568,0.034),(0.3580,0.025),(0.3591,0.031),(0.3603,0.020),(0.3615,0.012),(0.3630,0.008),(0.3650,0.004),(0.3665,0.008),(0.3686,0.012),
(0.3700,0.016)]

SPECTRA = [A0, B0, C0, D0, E0, D1]

# detected peaks: panel index, frequency, marker height
MARK_PANEL = [0, 1, 2, 3, 3]
MARK_F = [0.1495, 0.3122, 0.0765, 0.0077, 0.0181]
MARK_P = [0.295, 0.327, 0.242, 0.246, 0.246]

# ---------------- style / layout ----------------
FONT = "Liberation Serif"
BLUE = "#6495ED"
MARK_COLORS = ["#ff0000", "#ff0000", "#ff0000", "#4040ff", "#8585ff"]
W, H = 1200, 1861
M_L, M_R, M_T, M_B = 89, 5, 77, 86
PLOT_H = H - M_T - M_B
PLOT_W = W - M_L - M_R
PANEL_H = 218
PITCH = 296
TICK_SIZE = 31
TITLE_SIZE = 44

fig = go.Figure()
layout = dict(
    width=W, height=H, margin=dict(l=M_L, r=M_R, t=M_T, b=M_B),
    paper_bgcolor="white", plot_bgcolor="white", showlegend=False,
    font=dict(family=FONT, size=TICK_SIZE, color="black"),
)
annotations = []
shapes = []

for i, spec in enumerate(SPECTRA):
    n = i + 1
    xs = "x" if n == 1 else f"x{n}"
    ys = "y" if n == 1 else f"y{n}"
    xt = f"x{n + 6}"
    top = 1 - PITCH * i / PLOT_H
    bot = top - PANEL_H / PLOT_H
    f = [a for a, b in spec]
    p = [b for a, b in spec]
    if PANEL_NAMES[i] == "O-E0":
        fig.add_trace(go.Scatter(x=f, y=p, xaxis=xs, yaxis=ys, mode="lines",
                                 line=dict(color=BLUE, width=6), hoverinfo="skip"))
    else:
        fig.add_trace(go.Scatter(x=f, y=p, xaxis=xs, yaxis=ys, mode="lines",
                                 fill="tozeroy", fillcolor=BLUE,
                                 line=dict(color=BLUE, width=2.2), hoverinfo="skip"))
    # invisible helper on top (period) axis
    fig.add_trace(go.Scatter(x=f, y=p, xaxis=xt, yaxis=ys, mode="lines",
                             opacity=0, hoverinfo="skip"))
    mf = [MARK_F[k] for k in range(len(MARK_F)) if MARK_PANEL[k] == i]
    mp = [MARK_P[k] for k in range(len(MARK_F)) if MARK_PANEL[k] == i]
    mc = [MARK_COLORS[k] for k in range(len(MARK_F)) if MARK_PANEL[k] == i]
    if mf:
        fig.add_trace(go.Scatter(x=mf, y=mp, xaxis=xs, yaxis=ys, mode="markers",
                                 marker=dict(symbol="triangle-down", size=17, color=mc,
                                             line=dict(width=0)), hoverinfo="skip"))
    axis_common = dict(showgrid=False, zeroline=False, ticks="inside", ticklen=8,
                       tickwidth=1.8, tickcolor="black")
    layout["xaxis" if n == 1 else f"xaxis{n}"] = dict(
        axis_common, domain=[0, 1], range=X_RANGE, anchor=ys,
        tickvals=FREQ_TICKS, ticktext=FREQ_TICK_TEXT, showticklabels=(n == 6),
        showline=True, linewidth=2.5, linecolor="black", mirror=True,
        tickfont=dict(size=TICK_SIZE), ticklabelstandoff=1)
    layout["yaxis" if n == 1 else f"yaxis{n}"] = dict(
        axis_common, domain=[bot, top], range=Y_RANGE, anchor=xs,
        tickvals=POWER_TICKS, ticktext=POWER_TICK_TEXT,
        showline=True, linewidth=2.5, linecolor="black", mirror=True,
        tickfont=dict(size=TICK_SIZE), ticklabelstandoff=0)
    period_text = [str(v) for v in PERIOD_TICKS] if n == 1 else \
        ["·" if v >= 10 else "" for v in PERIOD_TICKS]
    layout[f"xaxis{n + 6}"] = dict(
        axis_common, overlaying=xs, side="top", anchor=ys, range=X_RANGE,
        tickvals=[1.0 / v for v in PERIOD_TICKS], ticktext=period_text,
        showline=False, tickfont=dict(size=TICK_SIZE if n == 1 else 16),
        ticklabelstandoff=5 if n == 1 else 6)
    for t in THRESHOLDS:
        shapes.append(dict(type="line", xref=f"{xs} domain", yref=ys, x0=0, x1=1,
                           y0=t, y1=t, line=dict(color="#333333", width=3.2, dash="12px,6px")))
    annotations.append(dict(text=PANEL_NAMES[i], xref="paper", yref="paper",
                            x=(1176 - M_L) / PLOT_W, y=top - 41 / PLOT_H,
                            xanchor="right", yanchor="middle", showarrow=False,
                            font=dict(size=32)))
    annotations.append(dict(text="power", xref="paper", yref="paper",
                            x=(15 - M_L) / PLOT_W, y=(top + bot) / 2, textangle=-90,
                            xanchor="center", yanchor="middle", showarrow=False,
                            font=dict(size=43)))

annotations.append(dict(text="period (d)", xref="paper", yref="paper", x=0.5,
                        y=1 + (M_T - 17) / PLOT_H, xanchor="center", yanchor="middle",
                        showarrow=False, font=dict(size=TITLE_SIZE)))
annotations.append(dict(text="frequency (1/d)", xref="paper", yref="paper", x=0.5,
                        y=-(1834 - (H - M_B)) / PLOT_H, xanchor="center", yanchor="middle",
                        showarrow=False, font=dict(size=TITLE_SIZE)))

layout["annotations"] = annotations
layout["shapes"] = shapes
fig.update_layout(**layout)
fig.write_html("out.html", config={"displayModeBar": False},
               post_script="document.body.style.margin='0px';")
